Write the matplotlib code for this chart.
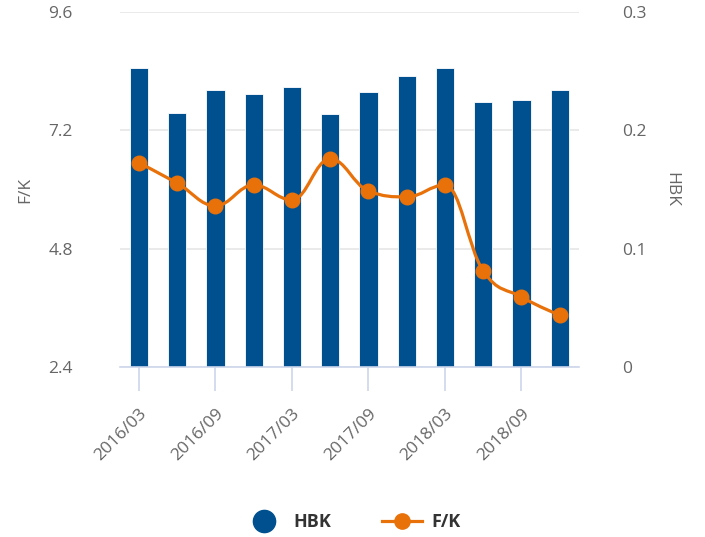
import matplotlib
matplotlib.use('Agg')
import matplotlib.pyplot as plt
from matplotlib.path import Path
import matplotlib.patches as mpatches
from matplotlib.lines import Line2D

# Data
periods = ['2016/03', '2016/06', '2016/09', '2016/12', '2017/03', '2017/06',
           '2017/09', '2017/12', '2018/03', '2018/06', '2018/09', '2018/12']
hbk = [0.253, 0.215, 0.234, 0.231, 0.237, 0.214,
       0.232, 0.246, 0.253, 0.224, 0.226, 0.234]
fk = [6.54, 6.13, 5.67, 6.09, 5.79, 6.62,
      5.97, 5.85, 6.09, 4.35, 3.82, 3.45]
left_ticks = [2.4, 4.8, 7.2, 9.6]
right_ticks = [0, 0.1, 0.2, 0.3]

BLUE = '#00508f'
ORANGE = '#e8710a'
GRID = '#e6e6e6'
AXIS = '#ccd6eb'
TXT = '#666666'

plt.rcParams['font.family'] = ['Open Sans', 'DejaVu Sans']


def spline_path(xs, ys):
    """Highcharts-like spline through the points (drawing only)."""
    n = len(xs)
    lc = [(x, y) for x, y in zip(xs, ys)]
    rc = [(x, y) for x, y in zip(xs, ys)]
    s, d = 1.5, 2.5
    for i in range(1, n - 1):
        px, py = xs[i], ys[i]
        lx, ly = xs[i - 1], ys[i - 1]
        nx, ny = xs[i + 1], ys[i + 1]
        lcx, lcy = (s * px + lx) / d, (s * py + ly) / d
        rcx, rcy = (s * px + nx) / d, (s * py + ny) / d
        if rcx != lcx:
            corr = (rcy - lcy) * (rcx - px) / (rcx - lcx) + py - rcy
            lcy += corr
            rcy += corr
        if lcy > max(ly, py):
            lcy = max(ly, py); rcy = 2 * py - lcy
        elif lcy < min(ly, py):
            lcy = min(ly, py); rcy = 2 * py - lcy
        if rcy > max(py, ny):
            rcy = max(py, ny); lcy = 2 * py - rcy
        elif rcy < min(py, ny):
            rcy = min(py, ny); lcy = 2 * py - rcy
        lc[i] = (lcx, lcy)
        rc[i] = (rcx, rcy)
    verts = [(xs[0], ys[0])]
    codes = [Path.MOVETO]
    for i in range(1, n):
        verts += [rc[i - 1], lc[i], (xs[i], ys[i])]
        codes += [Path.CURVE4] * 3
    return Path(verts, codes)


fig = plt.figure(figsize=(7.05, 5.37), dpi=100)
ax = fig.add_axes([0.170, 0.3166, 0.651, 0.661])
ax2 = ax.twinx()

x = list(range(len(periods)))

# bars on the right axis
ax2.bar(x, hbk, width=0.48, color=BLUE, edgecolor='white', linewidth=0.6, zorder=3)
ax2.set_ylim(0, 0.3)
ax2.set_yticks(right_ticks)
ax2.set_yticklabels(['0', '0.1', '0.2', '0.3'])
ax2.grid(axis='y', color=GRID, linewidth=1.2, zorder=0)
ax2.set_axisbelow(True)

# line on the left axis, drawn above the bars
ax.set_zorder(ax2.get_zorder() + 1)
ax.patch.set_visible(False)
ax.add_patch(mpatches.PathPatch(spline_path(x, fk), facecolor='none',
                                edgecolor=ORANGE, linewidth=2.3, zorder=4))
ax.plot(x, fk, linestyle='none', marker='o', markersize=10.5, color=ORANGE, zorder=5)
ax.set_ylim(2.4, 9.6)
ax.set_yticks(left_ticks)
ax.set_yticklabels(['2.4', '4.8', '7.2', '9.6'])
ax.set_xlim(-0.5, len(periods) - 0.5)
ax.set_xticks(x[::2])
ax.set_xticklabels(periods[::2], rotation=45, ha='right', va='top',
                   rotation_mode='anchor', color=TXT, fontsize=12.5)

for a in (ax, ax2):
    for side in ('top', 'left', 'right'):
        a.spines[side].set_visible(False)
    a.spines['bottom'].set_color(AXIS)
    a.spines['bottom'].set_linewidth(1.2)
ax2.spines['bottom'].set_visible(False)

ax.tick_params(axis='x', length=17, width=1.2, color=AXIS, pad=11)
ax.tick_params(axis='y', length=0, pad=34, labelsize=12.5, labelcolor=TXT)
ax2.tick_params(axis='y', length=0, pad=31, labelsize=12.5, labelcolor=TXT)

ax.set_ylabel('F/K', fontsize=12.5, color=TXT, labelpad=11)
ax2.set_ylabel('HBK', fontsize=12.5, color=TXT, rotation=270, labelpad=24)

handles = [
    Line2D([], [], linestyle='none', marker='o', markersize=16, color=BLUE, label='HBK'),
    Line2D([], [], color=ORANGE, linewidth=2.3, marker='o', markersize=11, label='F/K'),
]
leg = fig.legend(handles=handles, loc='center', bbox_to_anchor=(0.5, 0.028),
                 ncol=2, frameon=False, fontsize=13, handlelength=2.2,
                 columnspacing=2.8, handletextpad=0.55)
for t in leg.get_texts():
    t.set_fontweight('bold')
    t.set_color('#333333')

fig.savefig('out.png', dpi=100, facecolor='white')
